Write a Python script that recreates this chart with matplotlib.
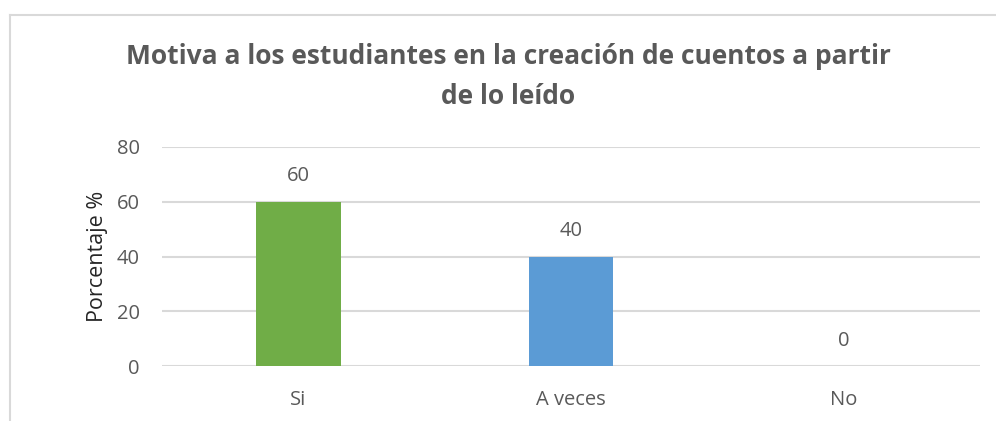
import matplotlib
matplotlib.use("Agg")
import matplotlib.pyplot as plt
from matplotlib.lines import Line2D
import numpy as np

categories = ["Si", "A veces", "No"]
values = [60, 40, 0]
bar_colors = ["#70AD47", "#5B9BD5", "#A5A5A5"]

plt.rcParams["font.family"] = ["Open Sans", "DejaVu Sans"]
TXT = "#595959"

fig = plt.figure(figsize=(9.96, 4.21), dpi=100)
fig.patch.set_facecolor("white")
ax = fig.add_axes([162 / 996, 1 - 366 / 421, (980 - 162) / 996, (366 - 147) / 421])

xs = np.arange(len(categories))
bars = ax.bar(xs, values, width=0.31, color=bar_colors, zorder=3)
for x, v in zip(xs, values):
    ax.annotate(f"{v}", (x, v), xytext=(0, 11), textcoords="offset points",
                ha="center", va="bottom", fontsize=14.5, color=TXT)

ax.set_xlim(-0.5, len(categories) - 0.5)
ax.set_ylim(0, 80)
ax.set_yticks([0, 20, 40, 60, 80])
ax.yaxis.grid(True, color="#D9D9D9", lw=1.5, zorder=0)
ax.set_axisbelow(True)
for s in ax.spines.values():
    s.set_visible(False)
ax.set_xticks(xs)
ax.set_xticklabels(categories)
ax.tick_params(axis="both", length=0, labelsize=14.5, labelcolor=TXT)
ax.tick_params(axis="x", pad=17)
ax.tick_params(axis="y", pad=16)
ax.set_ylabel("Porcentaje %", fontsize=15.5, color="#262626", labelpad=6)

title_lines = ["Motiva a los estudiantes en la creación de cuentos a partir", "de lo leído"]
for yy, line in zip([57, 97], title_lines):
    fig.text(508 / 996, 1 - yy / 421, line, ha="center", va="center",
             fontsize=19, fontweight="bold", color=TXT)

# chart area border (partially cropped in the original)
fig.add_artist(Line2D([9.5 / 996, 9.5 / 996], [0, 1 - 15 / 421], color="#D9D9D9", lw=1.5))
fig.add_artist(Line2D([9.5 / 996, 1], [1 - 15 / 421, 1 - 15 / 421], color="#D9D9D9", lw=1.5))

fig.savefig("out.png", dpi=100)
